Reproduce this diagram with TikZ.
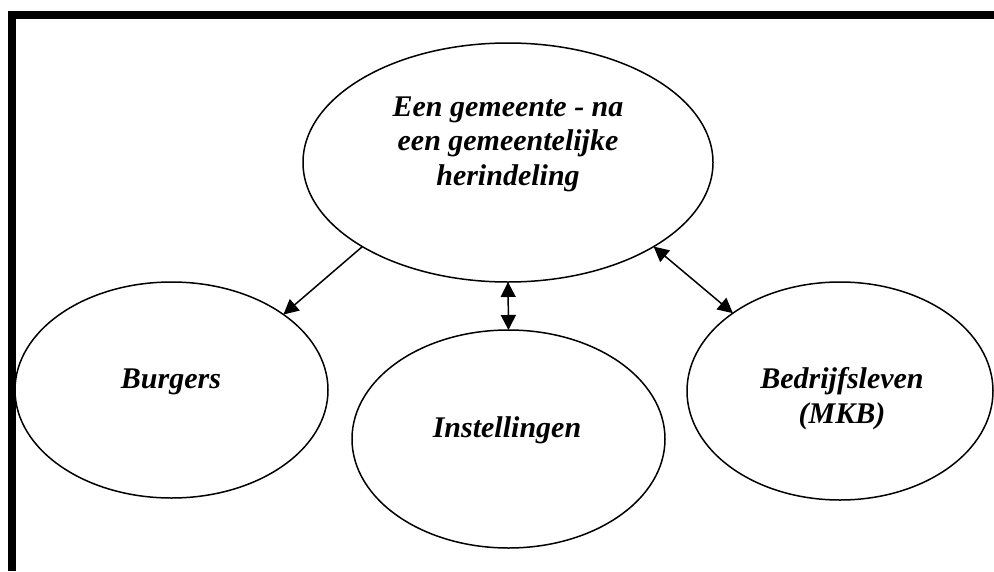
\documentclass[tikz,border=0pt]{standalone}
\usepackage{fontspec}
\setmainfont{Liberation Serif}
\usetikzlibrary{shapes.geometric,arrows.meta}

\begin{document}
\begin{tikzpicture}[x=1pt,y=-1pt,
  >={Triangle[length=15pt,width=15pt]},
  bubble/.style={ellipse,draw,line width=1.5pt,inner sep=0pt,outer sep=0pt},
  caption/.style={font=\fontsize{30}{34.5}\selectfont\bfseries\itshape,
    align=center,inner sep=0pt,anchor=base},
  link/.style={line width=1.5pt,draw}]

  \useasboundingbox (0,0) rectangle (994,571);

  % frame: heavy rule along the top and the left side
  \draw[line width=8pt,line join=miter] (12,571) -- (12,15) -- (994,15);

  % the four bubbles
  \node[bubble,minimum width=410pt,minimum height=239pt] (gem)  at (508,162.5) {};
  \node[bubble,minimum width=313pt,minimum height=216pt] (burg) at (171.5,390) {};
  \node[bubble,minimum width=313pt,minimum height=218pt] (inst) at (508.5,439) {};
  \node[bubble,minimum width=306pt,minimum height=218pt] (bedr) at (840,391) {};

  % labels (placed by the baseline of their last line)
  \node[caption] (gemtext)  at (508,185) {Een gemeente - na\\een gemeentelijke\\herindeling};
  \node[caption] (burgtext) at (171,388) {Burgers};
  \node[caption] (insttext) at (507,437) {Instellingen};
  \node[caption] (bedrtext) at (842,423) {Bedrijfsleven\\(MKB)};

  % relations
  \draw[link,->] (gem.210.5) -- (burg.34.5);
  \draw[link,<->] (gem.south) -- (inst.north);
  \draw[link,<->] (gem.-30.5) -- (bedr.144);
\end{tikzpicture}
\end{document}
